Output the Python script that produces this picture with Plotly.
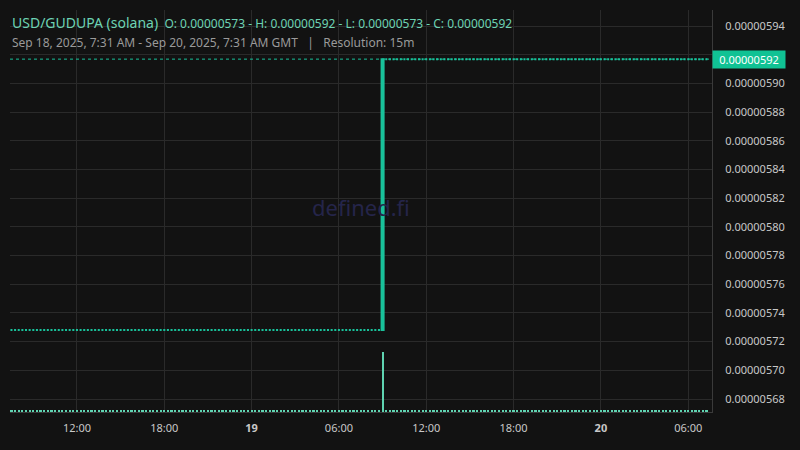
import pandas as pd
import plotly.graph_objects as go

# ---- data ----
PAIR = "USD/GUDUPA (solana)"
OHLC = {"O": 0.00000573, "H": 0.00000592, "L": 0.00000573, "C": 0.00000592}
PERIOD_TEXT = "Sep 18, 2025, 7:31 AM - Sep 20, 2025, 7:31 AM GMT"
RESOLUTION = "15m"

FIRST_CANDLE = "2025-09-18 07:30"
LAST_CANDLE = "2025-09-20 07:15"
JUMP_CANDLE = "2025-09-19 09:00"
PRICE_BEFORE = 0.0000057281
PRICE_AFTER = 0.0000059169
VOLUME_QUIET = 30
VOLUME_JUMP = 1480

X_TICKS = ["2025-09-18 12:00", "2025-09-18 18:00", "2025-09-19 00:00", "2025-09-19 06:00",
           "2025-09-19 12:00", "2025-09-19 18:00", "2025-09-20 00:00", "2025-09-20 06:00"]
X_TICK_TEXT = ["12:00", "18:00", "<b>19</b>", "06:00", "12:00", "18:00", "<b>20</b>", "06:00"]
Y_TICKS = [0.00000568, 0.00000570, 0.00000572, 0.00000574, 0.00000576, 0.00000578, 0.00000580,
           0.00000582, 0.00000584, 0.00000586, 0.00000588, 0.00000590, 0.00000592, 0.00000594]

BG = "#121212"
GRID = "#2a2a2a"
TEAL = "#19c29b"
TEAL_LIGHT = "#5fd3b1"
FONT = "Noto Sans"

# candles: flat before the jump, one big up candle, flat after
times = pd.date_range(FIRST_CANDLE, LAST_CANDLE, freq="15min")
jump = pd.Timestamp(JUMP_CANDLE)
o, h, l, c, vol = [], [], [], [], []
for t in times:
    if t < jump:
        p = PRICE_BEFORE
        o.append(p); h.append(p); l.append(p); c.append(p); vol.append(VOLUME_QUIET)
    elif t == jump:
        o.append(PRICE_BEFORE); h.append(PRICE_AFTER); l.append(PRICE_BEFORE); c.append(PRICE_AFTER)
        vol.append(VOLUME_JUMP)
    else:
        p = PRICE_AFTER
        o.append(p); h.append(p); l.append(p); c.append(p); vol.append(VOLUME_QUIET)

fig = go.Figure()
fig.add_trace(go.Bar(x=times, y=vol, yaxis="y2", marker=dict(color=TEAL_LIGHT, line_width=0),
                     width=15 * 60 * 1000 * 0.6, showlegend=False, hoverinfo="skip"))
fig.add_trace(go.Candlestick(
    x=times, open=o, high=h, low=l, close=c, showlegend=False,
    increasing=dict(line=dict(color=TEAL, width=2), fillcolor=TEAL),
    decreasing=dict(line=dict(color=TEAL, width=2), fillcolor=TEAL),
    whiskerwidth=0,
))

# last price line + label (the label sits over the 0.00000592 tick)
fig.add_shape(type="line", xref="paper", x0=0, x1=1, y0=PRICE_AFTER, y1=PRICE_AFTER,
              line=dict(color=TEAL, width=1, dash="dot"))
fig.add_annotation(xref="paper", x=1, y=PRICE_AFTER, xanchor="left", yanchor="middle",
                   text=f"{OHLC['C']:.8f}", showarrow=False, bgcolor="#10c294",
                   width=70, height=15, align="center",
                   font=dict(family=FONT, size=11, color="white"))

# watermark
fig.add_annotation(xref="paper", yref="paper", x=0.5, y=0.51, text="defined.fi", showarrow=False,
                   font=dict(family=FONT, size=22, color="#25254a"))

# header
ohlc_txt = " - ".join(f"{k}: {v:.8f}" for k, v in OHLC.items())
fig.add_annotation(xref="paper", yref="paper", x=0, y=1, xanchor="left", yanchor="top", yshift=-1,
                   text=f"<span style='font-size:14px'>{PAIR}</span>  {ohlc_txt}",
                   showarrow=False, align="left", font=dict(family=FONT, size=12, color="#6dd3b4"))
fig.add_annotation(xref="paper", yref="paper", x=0, y=1, xanchor="left", yanchor="top", yshift=-22,
                   text=f"{PERIOD_TEXT}   |   Resolution: {RESOLUTION}",
                   showarrow=False, align="left", font=dict(family=FONT, size=12, color="#9a9a9a"))

y_text = ["" if abs(v - OHLC["C"]) < 1e-12 else f"{v:.8f}" for v in Y_TICKS]

fig.update_layout(
    width=800, height=450,
    paper_bgcolor=BG, plot_bgcolor=BG,
    margin=dict(l=10, r=88, t=10, b=38),
    font=dict(family=FONT, color="#c8c8c8", size=11),
    bargap=0, boxgap=0.2,
    xaxis=dict(range=["2025-09-18 07:24", "2025-09-20 07:38"], rangeslider=dict(visible=False),
               tickvals=X_TICKS, ticktext=X_TICK_TEXT, gridcolor=GRID, showline=True,
               linecolor="#3a3a3a", zeroline=False, ticks="", ticklabelstandoff=6),
    yaxis=dict(side="right", range=[0.00000567094, 0.00000595115], tickvals=Y_TICKS, ticktext=y_text,
               gridcolor=GRID, showline=True, linecolor="#3a3a3a",
               zeroline=False, ticks="", ticklabelstandoff=10),
    yaxis2=dict(overlaying="y", range=[0, 9900], visible=False),
)

fig.write_html("out.html", config={"displayModeBar": False},
               post_script="document.body.style.margin='0';")
